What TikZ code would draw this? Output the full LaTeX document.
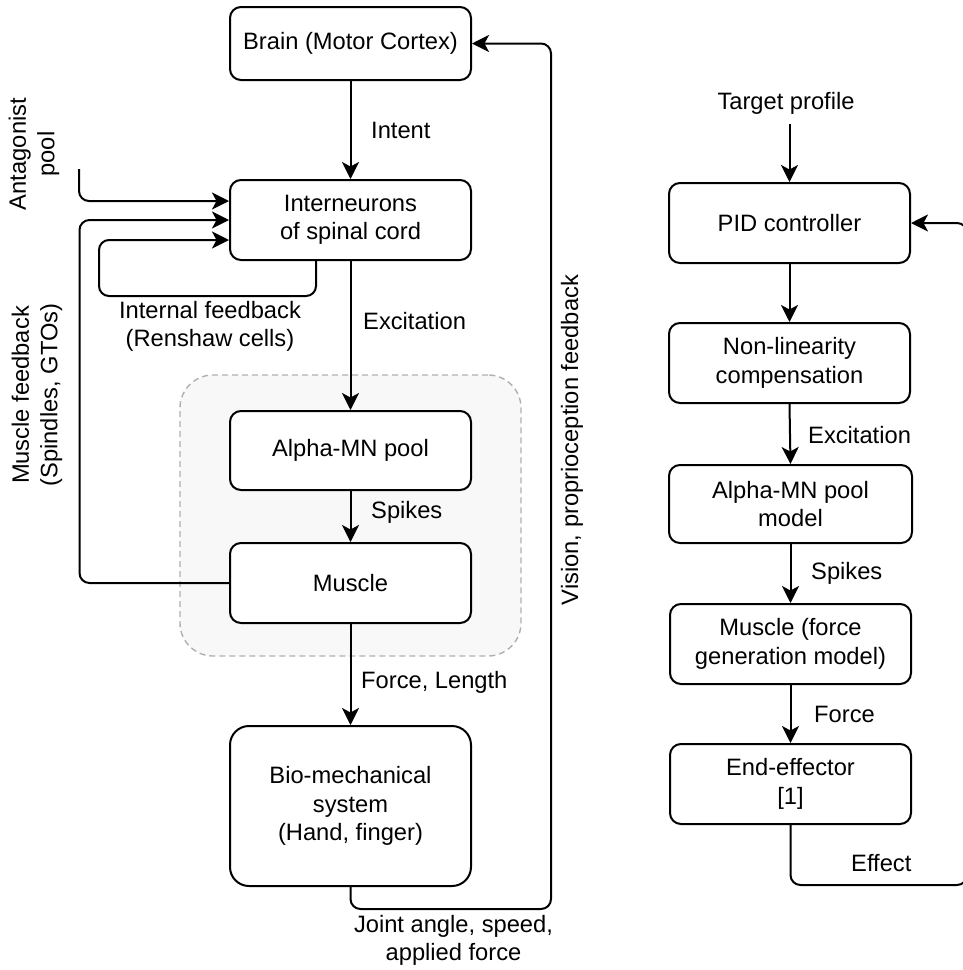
\documentclass[tikz,border=0pt]{standalone}
\usepackage{fontspec}
\setmainfont{Liberation Sans}
\usetikzlibrary{arrows.meta,calc}
\definecolor{grpfill}{HTML}{F8F8F8}
\definecolor{grpline}{HTML}{B0B0B0}
\begin{document}
\begin{tikzpicture}[x=1pt,y=-1pt,
  box/.style={draw, line width=2pt, rounded corners=11pt, fill=white, minimum width=241pt, inner sep=0pt, align=center, font=\fontsize{23.7}{28.5}\selectfont},
  lbl/.style={inner sep=0pt, align=center, font=\fontsize{23.7}{28.5}\selectfont},
  conn/.style={line width=2pt, rounded corners=10pt},
  arr/.style={conn, -{Stealth[length=17pt,width=17pt,inset=4.5pt]}},
  grp/.style={draw=grpline, fill=grpfill, line width=1.4pt, dash pattern=on 6pt off 4pt, rounded corners=33pt, inner sep=0pt}
]
\useasboundingbox (0,0) rectangle (962,970);

% group
\node[grp, minimum width=341pt, minimum height=281pt] (group) at (350.5,515.5) {};

% left column
\node[box, minimum height=73pt] (brain) at (350.5,43.5) {Brain (Motor Cortex)};
\node[box, minimum height=80pt] (inter) at (350.5,220) {Interneurons\\of spinal cord};
\node[box, minimum height=79pt] (alpha) at (350.5,450.5) {Alpha-MN pool};
\node[box, minimum height=80pt] (muscle) at (350.5,583) {Muscle};
\node[box, minimum height=160pt, rounded corners=19pt] (bio) at (350.5,806) {Bio-mechanical\\system\\(Hand, finger)};

\draw[arr] (brain.south) -- (inter.north);
\draw[arr] (inter.south) -- (alpha.north);
\draw[arr] (alpha.south) -- (muscle.north);
\draw[arr] (muscle.south) -- (bio.north);

\node[lbl, anchor=west] (lintent) at (371,130) {Intent};
\node[lbl, anchor=west] (lexc) at (363,321) {Excitation};
\node[lbl, anchor=west] (lspk) at (371,512) {Spikes};
\node[lbl, anchor=west] (lforce) at (361,682) {Force, Length};

\coordinate (antin) at (79,169);
\draw[arr] (antin) |- ($(inter.west)+(0,-19)$);
\draw[arr] (muscle.west) -| ($(inter.west)+(-149.5,0)$) -- (inter.west);
\draw[arr] ($(inter.south)+(-34.5,0)$) -- ++(0,35) -| ($(inter.west)+(-130,20)$) -- ($(inter.west)+(0,20)$);
\draw[arr] (bio.south) -- ++(0,22) -| ($(brain.east)+(79,0)$) -- (brain.east);

\node[lbl, rotate=90] (lant) at (34,154) {Antagonist\\pool};
\node[lbl, rotate=90] (lmfb) at (37,395) {Muscle feedback\\(Spindles, GTOs)};
\node[lbl] (lint) at (210,326.5) {Internal feedback\\(Renshaw cells)};
\node[lbl, rotate=90] (lvision) at (572,440) {Vision, proprioception feedback};
\node[lbl] (ljoint) at (453.5,940.5) {Joint angle, speed,\\applied force};

% right column
\node[box, minimum height=80pt] (pid) at (789.5,223) {PID controller};
\node[box, minimum height=80pt] (nl) at (789.5,363) {Non-linearity\\compensation};
\node[box, minimum height=78pt, minimum width=243pt] (amod) at (790.5,504) {Alpha-MN pool\\model};
\node[box, minimum height=80pt] (mmod) at (790.5,644) {Muscle (force\\generation model)};
\node[box, minimum height=80pt] (endeff) at (790.5,784) {End-effector\\{[1]}};

\node[lbl] (ltarget) at (786,103) {Target profile};
\coordinate (tstart) at (789.5,124);
\draw[arr] (tstart) -- (pid.north);
\draw[arr] (pid.south) -- (nl.north);
\draw[arr] (nl.south) -- (amod.north);
\draw[arr] (amod.south) -- (mmod.north);
\draw[arr] (mmod.south) -- (endeff.north);
\draw[arr] (endeff.south) -- ++(0,60) -| ($(pid.east)+(56,0)$) -- (pid.east);

\node[lbl, anchor=west] (lexc2) at (808,435) {Excitation};
\node[lbl, anchor=west] (lspk2) at (811,573) {Spikes};
\node[lbl, anchor=west] (lforce2) at (814,714) {Force};
\node[lbl, anchor=west] (leffect) at (851,863) {Effect};
\end{tikzpicture}
\end{document}
